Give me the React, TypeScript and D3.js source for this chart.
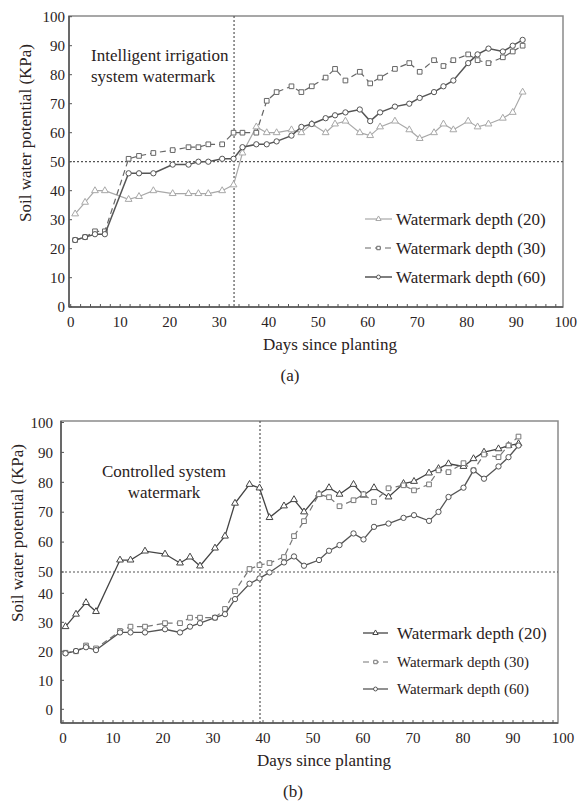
import React from 'react';
import * as d3 from 'd3';

// ---------- data ----------
const xTickValues = [0, 10, 20, 30, 40, 50, 60, 70, 80, 90, 100];
const yTickValues = [0, 10, 20, 30, 40, 50, 60, 70, 80, 90, 100];
const seriesNames = ['Watermark depth (20)', 'Watermark depth (30)', 'Watermark depth (60)'];

// (a) Intelligent irrigation
const daysA = [0.9, 2.9, 4.9, 6.9, 11.7, 13.8, 16.7, 20.6, 23.8, 25.8, 27.8, 30.6, 32.9, 34.7, 37.5, 39.6, 41.6, 44.6, 46.6, 48.7, 51.5, 53.4, 55.5, 58.4, 60.5, 62.5, 65.5, 68.4, 70.5, 73.4, 75.3, 77.3, 80.3, 82.2, 84.4, 87.3, 89.3, 91.3];
const depth20A = [32, 36, 40, 40, 37, 38, 40, 39, 39, 39, 39, 40, 42, 53, 62, 60, 60, 61, 60, 63, 60, 63, 64, 60, 59, 62, 64, 61, 58, 60, 63, 61, 64, 62, 63, 65, 67, 74];
const depth30A = [23, 24, 26, 26, 51, 52, 53, 54, 55, 55, 56, 56, 60, 60, 60, 71, 74, 76, 74, 76, 79, 82, 78, 81, 77, 79, 82, 84, 81, 85, 83, 85, 87, 85, 84, 86, 88, 90];
const depth60A = [23, 24, 25, 25, 46, 46, 46, 49, 49, 50, 50, 51, 51, 55, 56, 56, 57, 59, 62, 63, 65, 66, 67, 68, 64, 67, 69, 70, 72, 74, 76, 78, 84, 87, 89, 88, 90, 92];
const thresholdDayA = 33;

// (b) Controlled system
const daysB = [0.5, 2.6, 4.6, 6.6, 11.4, 13.5, 16.4, 20.4, 23.4, 25.4, 27.4, 30.4, 32.4, 34.4, 37.3, 39.3, 41.3, 44.2, 46.2, 48.2, 51.2, 53.2, 55.3, 58.1, 60.1, 62.2, 65.1, 68.1, 70.2, 73.2, 75.1, 77.1, 80.1, 82.1, 84.2, 87.1, 89.1, 91.1];
const depth20B = [28.5, 32.8, 36.8, 33.7, 54, 54, 57, 56, 53, 55, 52, 58, 62, 73, 79.3, 78.1, 68.2, 72.1, 74.2, 70.1, 76, 78.2, 76, 79.3, 75.7, 78.2, 75.1, 79.6, 80.3, 83.1, 84.6, 86.2, 85.3, 87.9, 90.1, 91.2, 92.3, 92.9];
const depth30B = [19.5, 20, 22, 21, 27, 28.5, 28.5, 29.7, 29.7, 31.6, 31.6, 31.6, 34.6, 41, 51, 52.3, 53, 55, 62, 67, 76, 75, 72, 74, 76, 73.4, 78, 79, 77.3, 79.3, 84, 83.4, 86.4, 84, 89.3, 88.4, 92.3, 95.3];
const depth60B = [19.3, 20.1, 21.4, 20.4, 26.5, 26.5, 26.5, 27.6, 26.5, 28.5, 29.7, 31.6, 32.8, 38, 44.5, 47, 49.8, 53.2, 55.2, 52.1, 54, 57.1, 59, 62.9, 60.9, 65.1, 66.2, 68.1, 69, 67.1, 70.1, 75.1, 78.2, 84, 81.2, 85.3, 88.4, 92.3];
const thresholdDayB = 39.4;

const FONT = "Liberation Serif, Tinos, DejaVu Serif, Times New Roman, serif";
const TXT = '#2a2222';

type SeriesStyle = { stroke: string; dash?: string; symbol: any; width: number; fontSize: number };

type ChartProps = {
  days: number[];
  series: number[][];
  styles: SeriesStyle[];
  x: d3.ScaleLinear<number, number>;
  y: d3.ScaleLinear<number, number>;
  frame: { left: number; top: number; right: number; bottom: number };
  yLabelRightGap: number;
  thresholdDay: number;
  annotation: string[];
  annX: number;
  annY: number;
  annAnchor: string;
  legendY: number[];
  legendLineX: [number, number];
  legendTextX: number;
  yTitleX: number;
  yTitleY: number;
  xTitleY: number;
  xTitleX: number;
  panel: string;
  panelX: number;
  panelY: number;
};

const txtStyle = { fontFamily: FONT } as React.CSSProperties;

function Chart(p: ChartProps) {
  const { x, y, frame } = p;
  const minorTicks = d3.range(0, 100, 2);
  const sym = (s: any) => d3.symbol().type(s).size(s === d3.symbolTriangle ? 20 : 22)();
  return (
    <g>
      {/* frame */}
      <rect x={frame.left} y={frame.top} width={frame.right - frame.left} height={frame.bottom - frame.top}
        fill="none" stroke="#8a8a8a" strokeWidth={1.5} />
      <line x1={frame.left} x2={frame.left} y1={frame.top} y2={frame.bottom} stroke="#555" strokeWidth={1.5} />
      <line x1={frame.left} x2={frame.right} y1={frame.bottom} y2={frame.bottom} stroke="#555" strokeWidth={1.5} />
      {/* x minor ticks */}
      {minorTicks.map((d) => (
        <line key={'mt' + d} x1={x(d)} x2={x(d)} y1={frame.bottom} y2={frame.bottom - 3} stroke="#555" strokeWidth={1} />
      ))}
      {/* y ticks */}
      {yTickValues.map((v) => (
        <g key={'yt' + v}>
          <line x1={frame.left} x2={frame.left + 3} y1={y(v)} y2={y(v)} stroke="#555" strokeWidth={1} />
          <text x={frame.left - p.yLabelRightGap} y={y(v)} dy="0.35em" textAnchor="end" fontSize={15} style={txtStyle} fill={TXT}>{v}</text>
        </g>
      ))}
      {/* x tick labels */}
      {xTickValues.map((v) => (
        <text key={'xt' + v} x={x(v)} y={frame.bottom + 15} dy="0.35em" textAnchor="middle" fontSize={15} style={txtStyle} fill={TXT}>{v}</text>
      ))}
      {/* reference lines */}
      <line x1={frame.left} x2={frame.right} y1={y(50)} y2={y(50)} stroke="#555" strokeWidth={1.2} strokeDasharray="2,2" />
      <line x1={x(p.thresholdDay)} x2={x(p.thresholdDay)} y1={frame.top} y2={frame.bottom} stroke="#555" strokeWidth={1.2} strokeDasharray="2,2" />
      {/* series */}
      {p.series.map((vals, si) => {
        const st = p.styles[si];
        const pts = vals.map((v, i) => [p.days[i], v] as [number, number]);
        const line = d3.line<[number, number]>().x((d) => x(d[0])).y((d) => y(d[1]));
        return (
          <g key={'s' + si}>
            <path d={line(pts) || ''} fill="none" stroke={st.stroke} strokeWidth={st.width} strokeDasharray={st.dash} />
            {pts.map((d, i) => (
              <path key={i} d={sym(st.symbol) || ''} transform={`translate(${x(d[0])},${y(d[1])})`}
                fill="#fff" stroke={st.stroke} strokeWidth={1} />
            ))}
          </g>
        );
      })}
      {/* annotation */}
      {p.annotation.map((t, i) => (
        <text key={'an' + i} x={p.annX} y={p.annY + i * 21} dy="0.35em" textAnchor={p.annAnchor as any} fontSize={17} style={txtStyle} fill={TXT}>{t}</text>
      ))}
      {/* legend */}
      {seriesNames.map((n, i) => {
        const st = p.styles[i];
        const ly = p.legendY[i];
        const mx = (p.legendLineX[0] + p.legendLineX[1]) / 2;
        return (
          <g key={'lg' + i}>
            <line x1={p.legendLineX[0]} x2={p.legendLineX[1]} y1={ly} y2={ly} stroke={st.stroke} strokeWidth={st.width} strokeDasharray={st.dash} />
            <path d={d3.symbol().type(st.symbol).size(12)() || ''} transform={`translate(${mx},${ly})`} fill="#fff" stroke={st.stroke} strokeWidth={1} />
            <text x={p.legendTextX} y={ly} dy="0.35em" fontSize={st.fontSize} style={txtStyle} fill={TXT}>{n}</text>
          </g>
        );
      })}
      {/* axis titles */}
      <text transform={`translate(${p.yTitleX},${p.yTitleY}) rotate(-90)`} textAnchor="middle" dy="0.35em" fontSize={17} style={txtStyle} fill={TXT}>
        Soil water potential (KPa)
      </text>
      <text x={p.xTitleX} y={p.xTitleY} dy="0.35em" textAnchor="middle" fontSize={17} style={txtStyle} fill={TXT}>Days since planting</text>
      <text x={p.panelX} y={p.panelY} dy="0.35em" textAnchor="middle" fontSize={17} style={txtStyle} fill={TXT}>{p.panel}</text>
    </g>
  );
}

export default function App() {
  const xA = d3.scaleLinear().domain([0, 100]).range([70.7, 565.7]);
  const yA = d3.scaleLinear().domain([0, 100]).range([306.7, 16.7]);
  const xB = d3.scaleLinear().domain([0, 100]).range([63, 563]);
  const yB = d3.scaleLinear().domain([0, 40, 50, 100]).range([709.3, 593.3, 572, 422.5]);

  const stylesA: SeriesStyle[] = [
    { stroke: '#a8a8a8', symbol: d3.symbolTriangle, width: 1.2, fontSize: 17 },
    { stroke: '#666', dash: '6,4', symbol: d3.symbolSquare, width: 1.2, fontSize: 17 },
    { stroke: '#555', symbol: d3.symbolCircle, width: 1.5, fontSize: 17 },
  ];
  const stylesB: SeriesStyle[] = [
    { stroke: '#444', symbol: d3.symbolTriangle, width: 1.3, fontSize: 17 },
    { stroke: '#777', dash: '6,4', symbol: d3.symbolSquare, width: 1.2, fontSize: 15 },
    { stroke: '#555', symbol: d3.symbolCircle, width: 1.3, fontSize: 15 },
  ];

  return (
    <svg width={579} height={803} style={{ position: 'absolute', left: 0, top: 0, display: 'block', background: '#fff' }}>
      <rect x={0} y={0} width={579} height={803} fill="#fff" />
      <Chart
        days={daysA}
        series={[depth20A, depth30A, depth60A]}
        styles={stylesA}
        x={xA}
        y={yA}
        frame={{ left: 69, top: 16, right: 563, bottom: 307 }}
        yLabelRightGap={4}
        thresholdDay={thresholdDayA}
        annotation={['Intelligent irrigation', 'system watermark']}
        annX={91}
        annY={55}
        annAnchor="start"
        legendY={[219, 248, 277]}
        legendLineX={[365, 392]}
        legendTextX={396}
        yTitleX={25}
        yTitleY={133}
        xTitleX={330}
        xTitleY={344}
        panel="(a)"
        panelX={290}
        panelY={375}
      />
      <Chart
        days={daysB}
        series={[depth20B, depth30B, depth60B]}
        styles={stylesB}
        x={xB}
        y={yB}
        frame={{ left: 61, top: 421, right: 558, bottom: 723 }}
        yLabelRightGap={8}
        thresholdDay={thresholdDayB}
        annotation={['Controlled system', 'watermark']}
        annX={164}
        annY={471}
        annAnchor="middle"
        legendY={[633, 662, 689]}
        legendLineX={[363, 388]}
        legendTextX={397}
        yTitleX={17}
        yTitleY={533}
        xTitleX={324}
        xTitleY={760}
        panel="(b)"
        panelX={293}
        panelY={791}
      />
    </svg>
  );
}
